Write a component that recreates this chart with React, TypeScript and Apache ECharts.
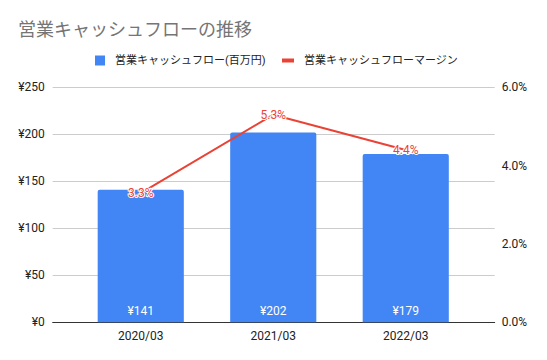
import React, { useEffect, useRef } from "react";
import * as echarts from "echarts";

const categories = ["2020/03", "2021/03", "2022/03"];
const cashFlow = [141, 202, 179];
const margin = [3.3, 5.3, 4.4];
const barName = "営業キャッシュフロー(百万円)";
const lineName = "営業キャッシュフローマージン";
const titleText = "営業キャッシュフローの推移";

const FONT = 'Roboto, "Noto Sans CJK JP", sans-serif';

export default function App() {
  const ref = useRef<HTMLDivElement>(null);
  useEffect(() => {
    if (!ref.current) return;
    const chart = echarts.init(ref.current, null, { renderer: "svg" });
    const gridTop = 87.3;
    const gridBottom = 37.7;
    chart.setOption({
      animation: false,
      textStyle: { fontFamily: FONT },
      title: {
        text: titleText,
        left: 18,
        top: 20,
        padding: 0,
        textStyle: { fontSize: 18, fontWeight: "normal", color: "#757575", fontFamily: FONT },
      },
      legend: [
        {
          data: [{ name: barName, icon: "rect" }],
          left: 95,
          top: 55,
          padding: 0,
          itemWidth: 10,
          itemHeight: 10,
          textStyle: { fontSize: 11, color: "#222", padding: [0, 0, 0, 5], fontFamily: FONT },
        },
        {
          data: [{ name: lineName, icon: "rect" }],
          left: 282,
          top: 55,
          padding: 0,
          itemWidth: 12,
          itemHeight: 4,
          textStyle: { fontSize: 11, color: "#222", padding: [0, 0, 0, 5], fontFamily: FONT },
        },
      ],
      grid: [
        { left: 52.7, right: 52.3, top: gridTop, bottom: gridBottom },
        { left: 74.5, right: 75, top: gridTop, bottom: gridBottom },
      ],
      xAxis: [
        {
          gridIndex: 0,
          type: "category",
          data: categories,
          axisLine: { show: true, lineStyle: { color: "#333", width: 1 } },
          axisTick: { show: false },
          axisLabel: { show: false },
        },
        {
          gridIndex: 1,
          type: "category",
          data: categories,
          axisLine: { show: false },
          axisTick: { show: false },
          axisLabel: { show: true, margin: 8, fontSize: 12, color: "#222", fontFamily: FONT },
        },
      ],
      yAxis: [
        {
          gridIndex: 0,
          type: "value",
          position: "left",
          min: 0,
          max: 250,
          interval: 50,
          axisLine: { show: false },
          axisTick: { show: false },
          axisLabel: {
            margin: 8,
            fontSize: 12,
            color: "#222",
            fontFamily: FONT,
            formatter: (v: number) => "¥" + v,
          },
          splitLine: { show: true, lineStyle: { color: "#cccccc", width: 1 } },
        },
        {
          gridIndex: 0,
          type: "value",
          position: "right",
          min: 0,
          max: 6,
          interval: 2,
          axisLine: { show: false },
          axisTick: { show: false },
          axisLabel: {
            margin: 7,
            fontSize: 12,
            color: "#222",
            fontFamily: FONT,
            formatter: (v: number) => v.toFixed(1) + "%",
          },
          splitLine: { show: false },
        },
        { gridIndex: 1, type: "value", min: 0, max: 250, interval: 50, show: false, splitLine: { show: false } },
        { gridIndex: 1, type: "value", min: 0, max: 6, interval: 2, show: false, position: "right", splitLine: { show: false } },
      ],
      series: [
        {
          name: barName,
          type: "bar",
          xAxisIndex: 1,
          yAxisIndex: 2,
          data: cashFlow,
          barWidth: "65%",
          itemStyle: { color: "#4285F4", borderRadius: [2, 2, 0, 0] },
          label: {
            show: true,
            position: "insideBottom",
            distance: 5,
            color: "#ffffff",
            fontSize: 12,
            fontFamily: FONT,
            formatter: (p: any) => "¥" + p.value,
          },
        },
        {
          name: lineName,
          type: "line",
          xAxisIndex: 1,
          yAxisIndex: 3,
          data: margin,
          z: 5,
          symbol: "circle",
          symbolSize: 1,
          itemStyle: { color: "#EA4335" },
          lineStyle: { color: "#EA4335", width: 2 },
          label: {
            show: true,
            position: "inside",
            color: "#EA4335",
            fontSize: 12,
            fontFamily: FONT,
            textBorderColor: "#ffffff",
            textBorderWidth: 2,
            formatter: (p: any) => Number(p.value).toFixed(1) + "%",
          },
        },
      ],
    });
    return () => chart.dispose();
  }, []);
  return (
    <div
      ref={ref}
      style={{ position: "absolute", left: 0, top: 0, width: 547, height: 360, background: "#fff" }}
    />
  );
}
